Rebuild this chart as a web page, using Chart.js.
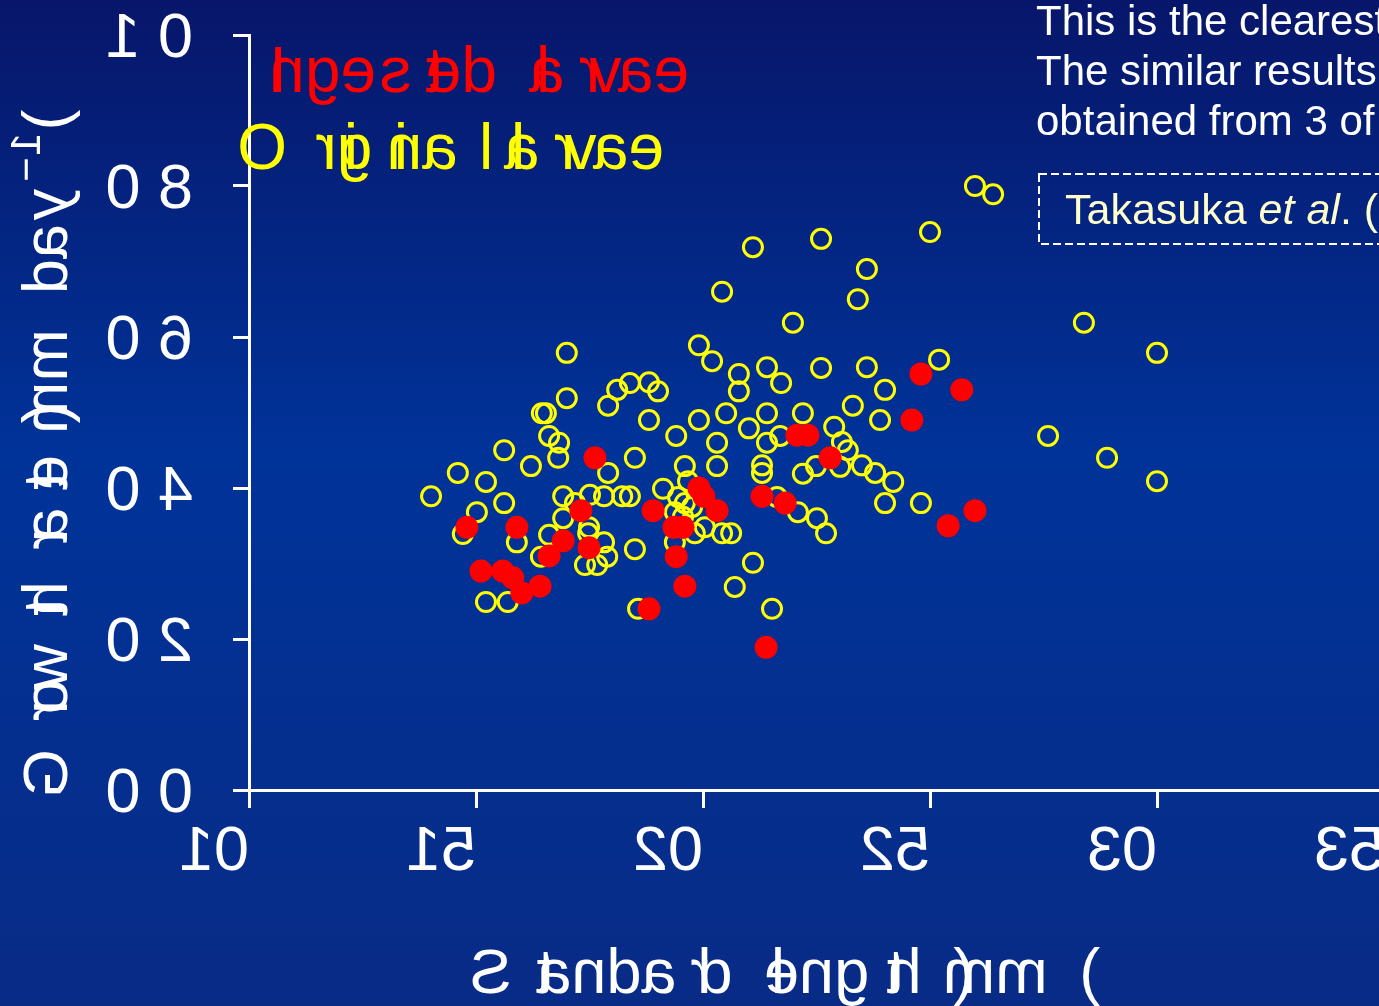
<!DOCTYPE html>
<html>
<head>
<meta charset="utf-8">
<title>Growth rate vs standard length</title>
<script src="https://cdn.jsdelivr.net/npm/chart.js@4.4.1/dist/chart.umd.min.js"></script>
<style>
  html, body { margin: 0; padding: 0; overflow: hidden; background: #003399; }
  #wrap { width: 1400px; height: 1006px; }
</style>
</head>
<body>
<div id="wrap"><canvas id="c" width="1400" height="1006"></canvas></div>
<script>
// Series: standard length (mm) and growth rate (mm day^-1)
const originalLength = [14.01,14.60,14.71,15.02,15.22,15.22,15.62,15.62,15.70,15.90,16.21,16.45,16.54,16.61,16.83,16.81,17.00,17.00,16.92,16.92,16.61,16.43,17.18,17.51,17.82,18.22,18.39,17.49,17.47,17.82,17.89,17.40,17.67,17.91,17.91,18.11,18.39,18.81,19.01,18.50,18.81,18.50,18.57,19.12,19.41,19.60,19.67,19.45,19.60,19.38,19.76,19.56,19.38,19.82,20.04,20.42,20.62,19.91,19.91,20.20,20.31,20.31,20.51,20.79,20.79,21.01,21.41,21.41,21.41,21.70,21.72,21.30,21.30,21.10,20.70,21.52,21.63,22.09,22.51,22.71,22.20,22.20,22.49,22.60,22.89,23.06,23.19,23.02,23.30,23.50,23.61,23.79,23.90,24.01,24.19,24.01,24.80,25.20,25.99,26.39,25.00,22.60,21.10,23.61,20.42,23.41,21.98,28.39,30.00,27.60,28.90,30.00];
const originalGrowth = [0.389,0.420,0.339,0.368,0.408,0.249,0.450,0.380,0.249,0.328,0.429,0.499,0.499,0.469,0.460,0.440,0.579,0.519,0.389,0.360,0.338,0.309,0.380,0.391,0.389,0.389,0.389,0.348,0.340,0.328,0.309,0.298,0.298,0.420,0.509,0.530,0.539,0.540,0.528,0.440,0.490,0.319,0.240,0.399,0.469,0.429,0.409,0.388,0.380,0.368,0.375,0.362,0.328,0.340,0.348,0.340,0.340,0.490,0.589,0.568,0.460,0.429,0.499,0.551,0.528,0.479,0.560,0.499,0.460,0.469,0.539,0.430,0.420,0.301,0.269,0.240,0.388,0.368,0.360,0.340,0.499,0.419,0.429,0.559,0.481,0.461,0.450,0.428,0.509,0.430,0.560,0.420,0.490,0.530,0.408,0.380,0.380,0.570,0.800,0.789,0.739,0.730,0.719,0.690,0.660,0.650,0.619,0.619,0.579,0.469,0.440,0.409];
const ingestedLength = [14.80,15.11,15.59,15.81,16.01,16.41,15.90,16.61,16.92,17.31,17.62,17.49,18.81,18.90,19.36,19.56,19.41,19.60,19.91,20.02,20.31,21.30,21.81,22.07,22.31,22.80,21.39,24.80,25.70,24.60,25.40,25.99];
const ingestedGrowth = [0.348,0.290,0.290,0.281,0.261,0.270,0.348,0.310,0.330,0.370,0.440,0.321,0.240,0.370,0.348,0.348,0.309,0.270,0.400,0.389,0.370,0.389,0.380,0.470,0.470,0.440,0.189,0.551,0.530,0.490,0.350,0.370];

// Axis tick labels
const xTickLabels = ['10','15','20','25','30','35'];
const yTickLabels = ['0.0','0.2','0.4','0.6','0.8','1.0'];

// Titles and notes
const xTitle = 'Standard length (mm)';
const yTitleRuns = [
  { text: 'Growth rate (mm day', sup: false },
  { text: '\u22121', sup: true },
  { text: ')', sup: false }
];
const noteLines = ['This is the clearest', 'The similar results', 'obtained from 3 of'];
const citation = [
  { text: 'Takasuka ', italic: false },
  { text: 'et al', italic: true },
  { text: '. (2003)', italic: false }
];

const FONT = '"Liberation Sans", Arial, Helvetica, sans-serif';
const BIG = 63;
const LEGEND_SIZE = 64;

const toPoints = (xs, ys) => xs.map((x, i) => ({ x, y: ys[i] }));

// Each glyph is painted flipped about its own pen origin (the deck's glyph style).
function glyphRunWidth(ctx, runs) {
  let w = 0;
  for (const r of runs) {
    ctx.font = r.size + 'px ' + FONT;
    for (const ch of r.text) w += ctx.measureText(ch).width;
  }
  return w;
}
function drawFlippedGlyphs(ctx, runs, x, y, blank) {
  let pen = x;
  for (const r of runs) {
    ctx.font = r.size + 'px ' + FONT;
    for (const ch of r.text) {
      const w = ctx.measureText(ch).width;
      if (!(blank && blank.includes(ch))) {
        ctx.save();
        ctx.translate(pen, y + (r.dy || 0));
        ctx.scale(-1, 1);
        ctx.textAlign = 'left';
        ctx.textBaseline = 'alphabetic';
        ctx.fillText(ch, 0, 0);
        ctx.restore();
      }
      pen += w;
    }
  }
}

const backgroundPlugin = {
  id: 'slideBackground',
  beforeDraw(chart) {
    const { ctx, width, height } = chart;
    const g = ctx.createLinearGradient(0, 0, 0, height);
    g.addColorStop(0, '#07166a');
    g.addColorStop(0.45, '#003399');
    g.addColorStop(1, '#082b86');
    ctx.save();
    ctx.fillStyle = g;
    ctx.fillRect(0, 0, width, height);
    ctx.restore();
  }
};

const textPlugin = {
  id: 'slideText',
  afterDraw(chart) {
    const { ctx, chartArea } = chart;
    const xs = chart.scales.x, ys = chart.scales.y;
    ctx.save();
    ctx.fillStyle = '#ffffff';

    // y tick labels (right aligned)
    ys.ticks.forEach((t, i) => {
      const label = yTickLabels[i];
      if (label === undefined) return;
      const runs = [{ text: label, size: BIG }];
      const w = glyphRunWidth(ctx, runs);
      drawFlippedGlyphs(ctx, runs, 228 - w, ys.getPixelForTick(i) + 22, '.');
    });

    // x tick labels (centered under ticks)
    xs.ticks.forEach((t, i) => {
      const label = xTickLabels[i];
      if (label === undefined) return;
      const runs = [{ text: label, size: BIG }];
      const w = glyphRunWidth(ctx, runs);
      drawFlippedGlyphs(ctx, runs, xs.getPixelForTick(i) - w / 2, 870);
    });

    // x axis title
    {
      const runs = [{ text: xTitle, size: BIG }];
      const w = glyphRunWidth(ctx, runs);
      const cx = (chartArea.left + chartArea.right) / 2;
      drawFlippedGlyphs(ctx, runs, cx - w / 2, 993);
    }

    // y axis title, rotated
    {
      const runs = yTitleRuns.map(r => r.sup ? { text: r.text, size: 42, dy: -27 } : { text: r.text, size: BIG });
      ctx.save();
      ctx.translate(67, 749);
      ctx.rotate(-Math.PI / 2);
      drawFlippedGlyphs(ctx, runs, 0, 0);
      ctx.restore();
    }

    // legend (text only, in series colours)
    const legendRows = [
      { ds: chart.data.datasets[0], y: 92 },
      { ds: chart.data.datasets[1], y: 169 }
    ];
    legendRows.forEach(row => {
      ctx.fillStyle = row.ds.legendColor;
      drawFlippedGlyphs(ctx, [{ text: row.ds.label, size: LEGEND_SIZE }], 287, row.y);
    });

    // notes at upper right
    ctx.fillStyle = '#ffffff';
    ctx.font = '42px ' + FONT;
    ctx.textAlign = 'left';
    ctx.textBaseline = 'alphabetic';
    noteLines.forEach((line, i) => ctx.fillText(line, 1036, 35 + i * 50));

    // citation box
    ctx.strokeStyle = '#ffffff';
    ctx.lineWidth = 2;
    ctx.setLineDash([8, 4]);
    ctx.strokeRect(1039, 174, 420, 70);
    ctx.setLineDash([]);
    ctx.fillStyle = '#ffffcc';
    let pen = 1065;
    citation.forEach(part => {
      ctx.font = (part.italic ? 'italic ' : '') + '43px ' + FONT;
      ctx.fillText(part.text, pen, 224);
      pen += ctx.measureText(part.text).width;
    });
    ctx.restore();
  }
};

new Chart(document.getElementById('c'), {
  type: 'scatter',
  data: {
    datasets: [
      {
        label: 'Ingested larvae',
        legendColor: '#ff0000',
        data: toPoints(ingestedLength, ingestedGrowth),
        pointStyle: 'circle',
        pointRadius: 11.5,
        backgroundColor: '#ff0000',
        borderColor: '#ff0000',
        borderWidth: 0
      },
      {
        label: 'Original larvae',
        legendColor: '#ffff00',
        data: toPoints(originalLength, originalGrowth),
        pointStyle: 'circle',
        pointRadius: 9.5,
        backgroundColor: 'rgba(0,0,0,0)',
        borderColor: '#ffff00',
        borderWidth: 3
      }
    ]
  },
  options: {
    responsive: false,
    animation: false,
    devicePixelRatio: 1,
    layout: { padding: { top: 35, right: 16, left: 0, bottom: 0 } },
    plugins: { legend: { display: false }, tooltip: { enabled: false } },
    scales: {
      x: {
        type: 'linear', min: 10, max: 35,
        ticks: { display: false, stepSize: 5 },
        grid: { display: true, drawOnChartArea: false, drawTicks: true, tickLength: 18, tickColor: '#ffffff', tickWidth: 3 },
        border: { display: true, color: '#ffffff', width: 3 },
        afterFit(scale) { scale.height = 216; }
      },
      y: {
        type: 'linear', min: 0, max: 1,
        ticks: { display: false, stepSize: 0.2 },
        grid: { display: true, drawOnChartArea: false, drawTicks: true, tickLength: 16, tickColor: '#ffffff', tickWidth: 3 },
        border: { display: true, color: '#ffffff', width: 3 },
        afterFit(scale) { scale.width = 249; }
      }
    }
  },
  plugins: [backgroundPlugin, textPlugin]
});
</script>
</body>
</html>
